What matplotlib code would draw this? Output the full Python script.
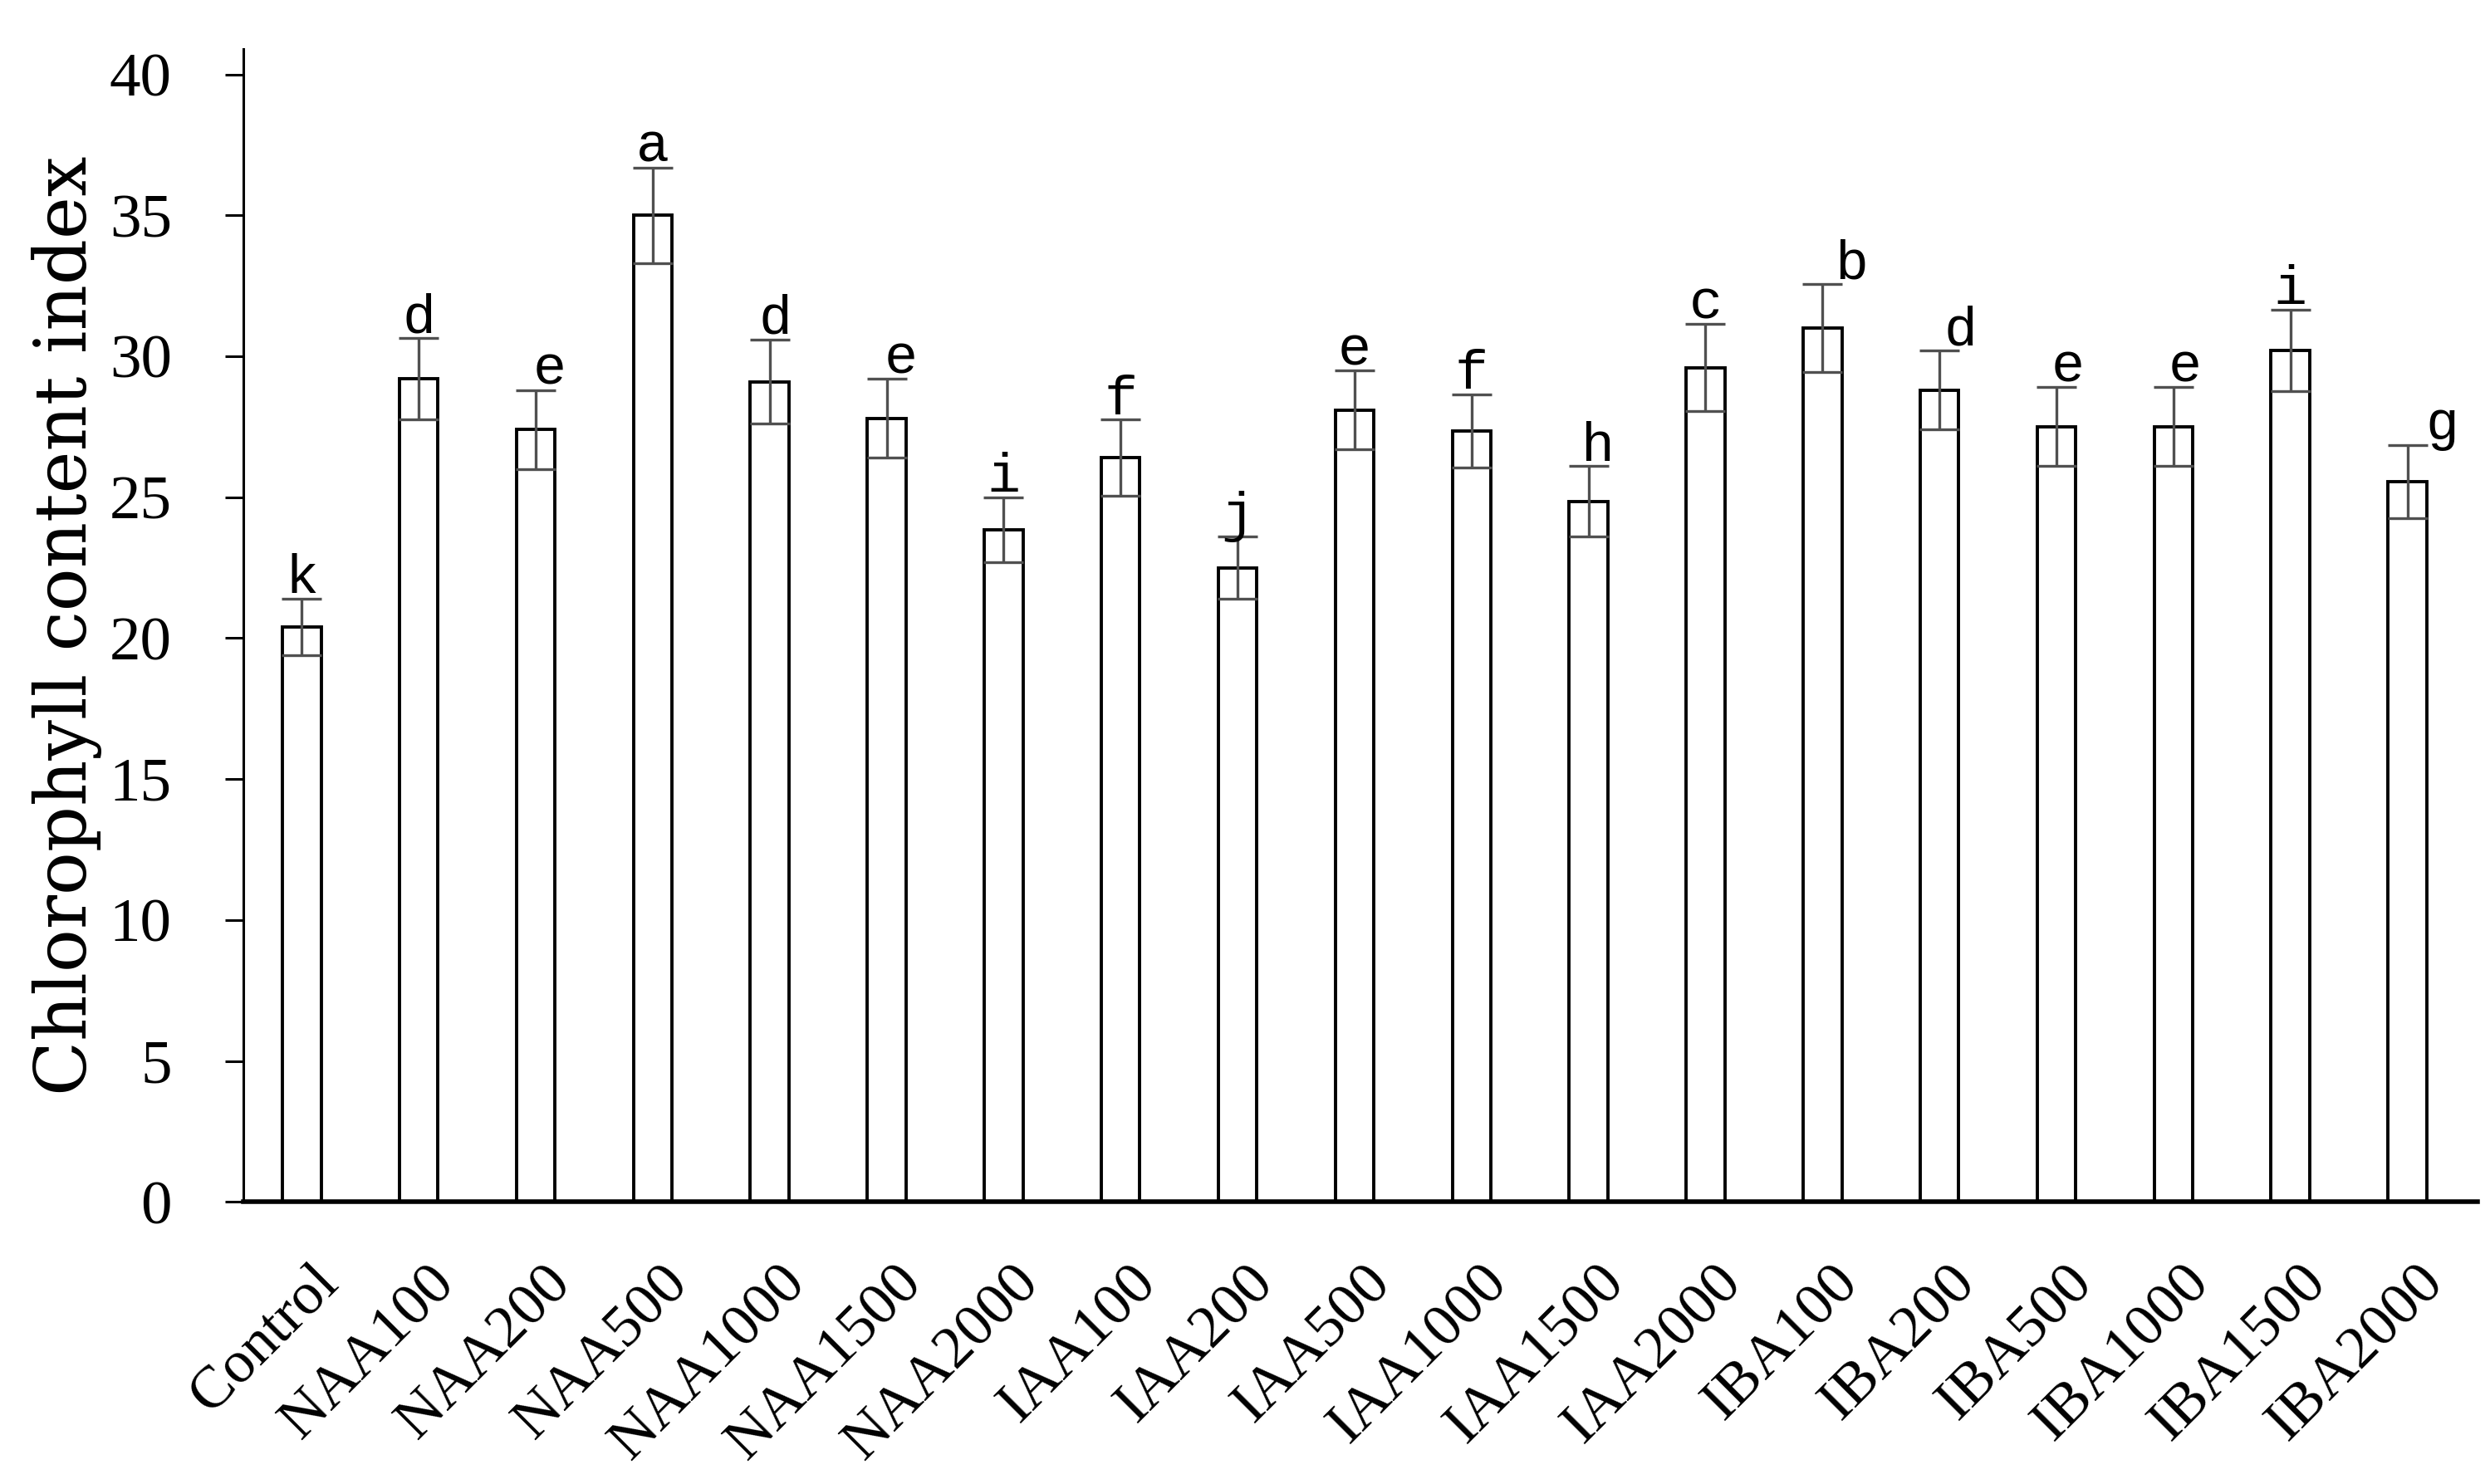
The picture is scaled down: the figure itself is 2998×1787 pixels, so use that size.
import matplotlib

matplotlib.use("Agg")
import matplotlib.pyplot as plt
import matplotlib.transforms as mtransforms
import numpy as np

categories = [
    "Control", "NAA100", "NAA200", "NAA500", "NAA1000", "NAA1500", "NAA2000",
    "IAA100", "IAA200", "IAA500", "IAA1000", "IAA1500", "IAA2000",
    "IBA100", "IBA200", "IBA500", "IBA1000", "IBA1500", "IBA2000",
]
means = [20.4, 29.2, 27.4, 35.0, 29.1, 27.8, 23.85, 26.4, 22.5, 28.1, 27.35,
         24.85, 29.6, 31.0, 28.8, 27.5, 27.5, 30.2, 25.55]
errors = [1.0, 1.45, 1.4, 1.7, 1.5, 1.4, 1.15, 1.35, 1.1, 1.4, 1.3,
          1.25, 1.55, 1.55, 1.4, 1.4, 1.4, 1.45, 1.3]
letters = ["k", "d", "e", "a", "d", "e", "i", "f", "j", "e", "f",
           "h", "c", "b", "d", "e", "e", "i", "g"]
# small sideways nudges of the letters, as in the original figure
letter_dx = [0, 0, 0.12, 0, 0.05, 0.12, 0, 0, 0, 0, 0,
             0.08, 0, 0.25, 0.18, 0.1, 0.1, 0, 0.3]

fig = plt.figure(figsize=(29.98, 17.87), dpi=100)
ax = fig.add_axes([0.0977, 0.19, 0.8973, 0.777])

x = np.arange(len(categories))
ax.bar(x, means, width=0.33, color="white", edgecolor="black", linewidth=2.8, zorder=2)
ax.errorbar(x, means, yerr=errors, fmt="none", ecolor="#505050", elinewidth=2.4,
            capsize=17, capthick=2.4, zorder=3)

for xi, m, e, lab, dx in zip(x, means, errors, letters, letter_dx):
    ax.text(xi + dx, m + e + 0.2, lab, ha="center", va="baseline",
            fontsize=48, family="Liberation Mono", zorder=4)

ax.set_xlim(-0.5, 18.6)
ax.set_ylim(0, 40.9)
ax.set_yticks(np.arange(0, 41, 5))
ax.set_xticks(x)
ax.set_xticklabels(categories, rotation=45, ha="right", rotation_mode="anchor",
                   fontsize=52, family="Liberation Serif")
ax.tick_params(axis="x", length=0, pad=46)
shift = mtransforms.ScaledTranslation(0.1, 0, fig.dpi_scale_trans)
for t in ax.get_xticklabels():
    t.set_transform(t.get_transform() + shift)
ax.tick_params(axis="y", length=16, width=2.2, direction="out", pad=46,
               labelsize=54)
for t in ax.get_yticklabels():
    t.set_family("Liberation Serif")

ax.spines["top"].set_visible(False)
ax.spines["right"].set_visible(False)
ax.spines["left"].set_linewidth(2.2)
ax.spines["bottom"].set_linewidth(4)

ax.set_ylabel("Chlorophyll content index", fontsize=62, family="DejaVu Serif")
ax.yaxis.set_label_coords(-0.063, 0.5)

fig.savefig("out.png", dpi=100)
